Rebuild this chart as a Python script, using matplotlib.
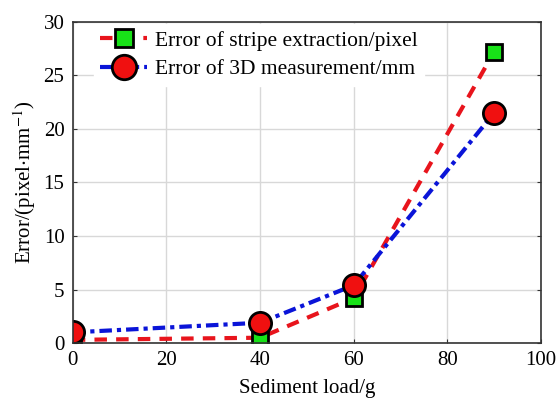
import numpy as np
import matplotlib.pyplot as plt

plt.rcParams['font.family'] = ['Liberation Serif', 'DejaVu Serif']
plt.rcParams['mathtext.fontset'] = 'stix'

load = [0, 40, 60, 90]
stripe_err = [0.3, 0.5, 4.2, 27.2]
meas_err = [1.0, 1.9, 5.4, 21.5]

fig = plt.figure(figsize=(5.6, 3.98), dpi=100)
ax = fig.add_axes([0.13, 0.138, 0.836, 0.807])

ax.plot(load, stripe_err, '--', color='#e8141c', lw=3, dashes=(3, 2.2),
        marker='s', ms=12, mfc='#18e218', mec='black', mew=2,
        label='Error of stripe extraction/pixel')
ax.plot(load, meas_err, '-.', color='#0a14d8', lw=3, dashes=(3, 1.2, 1, 1.2),
        marker='o', ms=16, mfc='#f01010', mec='black', mew=2,
        label='Error of 3D measurement/mm')

ax.set_xlim(0, 100)
ax.set_ylim(0, 30)
ax.set_xticks([0, 20, 40, 60, 80, 100])
ax.set_yticks([0, 5, 10, 15, 20, 25, 30])
ax.grid(True, color='#d8d8d8', lw=1)
ax.set_axisbelow(True)
ax.tick_params(direction='in', length=3, labelsize=15, top=False, right=True,
               pad=6, color='#333333')
for s in ax.spines.values():
    s.set_color('#333333')
    s.set_linewidth(1.2)

ax.set_xlabel('Sediment load/g', fontsize=15, labelpad=6)
ax.set_ylabel('Error/(pixel$\\cdot$mm$^{-1}$)', fontsize=15, labelpad=4)

leg = ax.legend(loc='upper left', bbox_to_anchor=(0.04, 1.0), fontsize=15.5,
                frameon=True, fancybox=False, edgecolor='white', framealpha=1,
                handlelength=2.2, handletextpad=0.35, borderaxespad=0.1,
                labelspacing=0.4, borderpad=0.3, markerscale=1.1)

fig.savefig('out.png', dpi=100)
